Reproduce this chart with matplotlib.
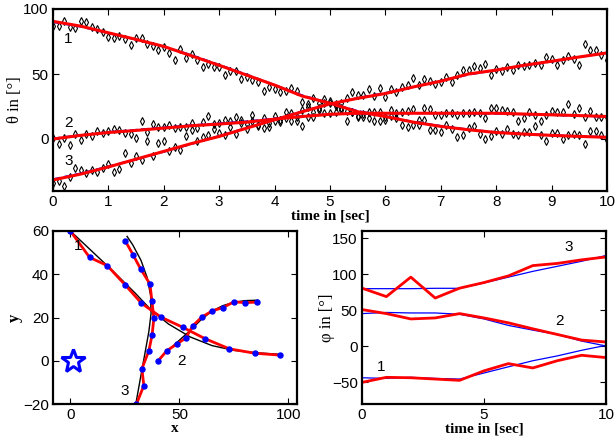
import numpy as np
import matplotlib
matplotlib.use('Agg')
import matplotlib.pyplot as plt

plt.rcParams['font.family'] = ['Liberation Sans', 'DejaVu Sans']
plt.rcParams['font.size'] = 11
plt.rcParams['xtick.direction'] = 'in'
plt.rcParams['ytick.direction'] = 'in'
plt.rcParams['xtick.top'] = True
plt.rcParams['ytick.right'] = True
plt.rcParams['axes.linewidth'] = 1.6

SERIF = ['Liberation Serif', 'DejaVu Serif']

# ---- top panel: bearing angles theta over time ----
t_meas = np.round(np.arange(0, 10.01, 0.1), 1)
theta1_meas = [87, 87.3, 91.1, 86.5, 85.2, 90.6, 90.3, 86.5, 84.7, 82.2,
               78.4, 77.9, 78.9, 76.6, 72, 77.9, 77.9, 73.3, 71.5, 68.7,
               70.7, 66.2, 61.1, 69, 62.6, 65.6, 60.6, 55.5, 58, 55.5,
               55.5, 49.1, 52.4, 52.4, 46, 47.8, 45.3, 43.5, 36.9, 40.2,
               38.4, 36.4, 36.9, 39.4, 36.9, 28.8, 26.7, 31.8, 27.5, 30.8,
               29.3, 25.7, 23.7, 13.5, 20.6, 17.3, 17.3, 16.5, 13.5, 14,
               14.8, 18, 16, 10.4, 8.9, 10.4, 10.4, 14.8, 7.1, 7.1,
               5.3, 10.4, 7.9, 1.3, 3.3, 8.4, 9.7, 3.8, 0.3, 2.5,
               6.4, 3.8, 7.9, 3.8, 2.8, 5.3, 5.3, 9.7, 2.8, -1.3,
               4.6, 4.6, 0.3, 2.8, 3.8, 2.8, -3.8, 5.9, 5.9, 3.3, -0.5]
theta2_meas = [1, -3.8, 0.8, -4.8, 3.8, -0.5, 3.8, 2, 5.9, 4.6,
               6.4, 7.9, 7.1, 4.6, 3.8, 0.8, 13.5, 5.1, 11.7, 8.9,
               9.4, 10.4, 8.4, 8.9, 9.4, 12, 8.4, 13, 18, 11.5,
               12.2, 14.8, 14, 17.3, 14.8, 11.5, 18.6, 11, 8.4, 12.2,
               13.5, 14.8, 20.6, 14, 17.3, 9.7, 17.3, 17.3, 22.4, 19.8,
               19.8, 21.1, 22.4, 21.6, 20.6, 18, 19.1, 20.6, 20.6, 20.6,
               17.3, 22.4, 19.8, 20.6, 21.6, 23.2, 14.8, 23.7, 23.2, 18.6,
               18.6, 19.8, 19.8, 18.6, 19.8, 19.8, 21.1, 19.8, 16.5, 24.2,
               23.7, 22.4, 21.6, 20.6, 14, 16, 20.6, 18.6, 14, 18.6,
               21.6, 21.1, 21.1, 26.7, 19.1, 23.7, 17.3, 21.6, 17.3, 17.3, 16.8]
theta3_meas = [-33.6, -32.3, -36.1, -29.3, -22.1, -23.9, -26, -23.9, -25.4, -22.1,
               -19.6, -25.2, -23.4, -10.7, -18.3, -13.2, -15.8, -1.3, -13.2, -3,
               -1.8, -9.4, -6.4, -8.1, 2.5, 7.1, -1.3, 1.3, 3.3, 7.9,
               5, 3, 9, 4, 12, 8, 14, 10, 16, 9,
               18, 13, 16, 20, 14, 22, 25, 21, 24, 28,
               27.5, 26.7, 27.5, 31.8, 35.9, 33.8, 33.8, 38.4, 33.3, 38.9,
               32.1, 38.4, 35.9, 40.2, 41.5, 47.1, 41.5, 46.1, 44.5, 42,
               43.5, 47.8, 43.5, 49.1, 52.9, 53.4, 56.2, 54.7, 58, 49.1,
               54.2, 52.2, 55.5, 52.9, 57.3, 56.2, 57.3, 58.8, 56.7, 63.1,
               61.3, 57.3, 60.6, 63.9, 61.3, 57.3, 73.3, 68.7, 68.2, 64.9, 61.1]

t_curve = np.arange(0, 10.01, 0.5)
theta1_true = [90, 86.5, 81.5, 76.5, 71, 64.5, 57, 49.5, 41.5, 33.5, 27.5,
               21.5, 17.5, 13.2, 10, 7.3, 5.2, 3.9, 2.9, 2.1, 1.5]
theta1_est = [90.5, 86.8, 81.7, 76.6, 71.2, 64, 56.7, 49.1, 41.5, 33, 27.5,
              21, 17.3, 13, 9.7, 7.1, 5, 3.8, 2.8, 2, 1.3]
theta2_true = [0.3, 3, 5.3, 7, 8.8, 10.5, 12, 13.5, 15.6, 17.5, 19,
               19.7, 19.9, 19.9, 19.8, 19.7, 19.5, 19.1, 18.5, 17.9, 17.2]
theta2_est = [0, 2.8, 5, 6.6, 8.4, 10.2, 11.5, 13, 15.3, 17.3, 19,
              19.8, 19.8, 19.8, 19.8, 19.8, 19.8, 19.2, 18.6, 18, 17.3]
theta3_true = [-31, -26.5, -21.2, -15.6, -9.8, -3.8, 2.3, 8.6, 15, 21.3, 26.8,
               31.5, 35.4, 40, 44.7, 49.6, 53, 56.5, 59.6, 63, 66.4]
theta3_est = [-31.5, -27, -21.5, -15.5, -9.5, -3.5, 2, 8.4, 14.8, 21, 27,
              31.3, 35, 40, 44.5, 50, 53, 56.7, 59.8, 63.1, 66.2]

# ---- bottom left: x-y tracks ----
trk1_true_x = [0, 10, 20, 30, 37, 45, 55, 65, 75, 85, 96]
trk1_true_y = [60, 50.5, 41, 31, 23.5, 17, 11, 7, 4.8, 3.7, 3]
trk1_est_x = [0, 8.8, 16.9, 25.2, 32.6, 41.5, 51.5, 61.8, 73, 84.5, 96]
trk1_est_y = [60, 47.8, 44, 35, 26.6, 20.2, 15.5, 10.2, 5.5, 3.5, 2.6]
trk2_true_x = [40, 45, 50, 55, 60, 65, 70, 75, 80, 86]
trk2_true_y = [0, 5, 9.5, 14, 19, 23, 25.5, 27, 27.8, 28]
trk2_est_x = [40.3, 44.2, 48.8, 52.9, 56.2, 60.3, 65, 70, 75, 80.3, 85.8]
trk2_est_y = [0, 4.6, 7.7, 10.5, 16.2, 20.2, 23, 24.6, 27.2, 26.9, 27.1]
trk3_true_x = [30, 31.5, 33, 34.5, 36, 37, 36.8, 35.2, 32.4, 28.6, 26]
trk3_true_y = [-20, -11.6, -3.2, 5.1, 13.5, 21.8, 30.3, 38.5, 46.4, 53.6, 57.5]
trk3_est_x = [30.3, 33.7, 32.8, 36, 37.5, 38.3, 37.4, 36.5, 32.3, 28.8, 25.2]
trk3_est_y = [-20, -11.5, -3.7, 4.6, 12, 19.7, 27.7, 35.5, 42.3, 48.9, 55.4]
sensor_x, sensor_y = 1, 0

# ---- bottom right: heading phi over time ----
t_phi = np.arange(0, 11)
phi1_true = [-43.6, -44.5, -43, -44.5, -45.4, -37, -28.4, -20, -13.3, -5.5, 1.4]
phi1_est = [-50, -43, -43.6, -45.4, -47.2, -34, -24, -30, -20, -12.4, -15.6]
phi2_true = [45.4, 47, 46.3, 46.3, 44.5, 38, 29, 22.5, 16.5, 7.3, 0.5]
phi2_est = [51, 45.4, 38, 39.4, 45.4, 39.4, 32.6, 24.3, 16.5, 8.7, 6]
phi3_true = [80, 80, 80, 80.5, 80.5, 88, 96, 104, 111, 118, 126]
phi3_est = [80.7, 69, 96, 67, 80.7, 88.5, 97.7, 112, 115, 120, 124]

fig = plt.figure(figsize=(6.16, 4.42), dpi=100)

# top
ax1 = fig.add_axes([53/616, 1-191/442, 554/616, 182/442])
for m in (theta1_meas, theta2_meas, theta3_meas):
    ax1.plot(t_meas, m, linestyle='none', marker='d', ms=3.6, mfc='none',
             mec='black', mew=0.8)
for tr, es in ((theta1_true, theta1_est), (theta2_true, theta2_est),
               (theta3_true, theta3_est)):
    ax1.plot(t_curve, tr, color='blue', ls='--', lw=1.5)
    ax1.plot(t_curve, es, color='red', lw=2.2)
ax1.text(0.2, 74, '1')
ax1.text(0.2, 9, '2')
ax1.text(0.2, -20, '3')
ax1.set_xlim(0, 10)
ax1.set_ylim(-40, 100)
ax1.set_xticks(range(0, 11))
ax1.set_yticks([0, 50, 100])
ax1.set_xlabel('time in [sec]', family=SERIF, fontweight='bold', labelpad=0)
ax1.set_ylabel('θ in [°]', family=SERIF, fontsize=12, labelpad=0)

# bottom left
ax2 = fig.add_axes([53/616, 1-404/442, 244/616, 173/442])
ax2.plot(trk1_true_x, trk1_true_y, color='black', lw=1)
ax2.plot(trk2_true_x, trk2_true_y, color='black', lw=1)
ax2.plot(trk3_true_x, trk3_true_y, color='black', lw=1)
for ex, ey in ((trk1_est_x, trk1_est_y), (trk2_est_x, trk2_est_y),
               (trk3_est_x, trk3_est_y)):
    ax2.plot(ex, ey, color='red', lw=2)
    ax2.plot(ex, ey, ls='none', marker='o', ms=3.6, color='blue')
ax2.plot(sensor_x, sensor_y, marker='*', ms=18, mfc='none', mec='blue', mew=2.2)
ax2.text(1.5, 51, '1')
ax2.text(49, -2, '2')
ax2.text(23, -16, '3')
ax2.set_xlim(-8, 104)
ax2.set_ylim(-20, 60)
ax2.set_xticks([0, 50, 100])
ax2.set_yticks([-20, 0, 20, 40, 60])
ax2.set_xlabel('x', family=SERIF, fontweight='bold', labelpad=0)
ax2.set_ylabel('y', family=SERIF, fontweight='bold', fontsize=12, labelpad=0)

# bottom right
ax3 = fig.add_axes([362/616, 1-404/442, 244/616, 173/442])
for tr, es in ((phi1_true, phi1_est), (phi2_true, phi2_est),
               (phi3_true, phi3_est)):
    ax3.plot(t_phi, tr, color='blue', lw=0.9)
    ax3.plot(t_phi, es, color='red', lw=2)
ax3.text(0.6, -34, '1')
ax3.text(7.9, 30, '2')
ax3.text(8.3, 132, '3')
ax3.set_xlim(0, 10)
ax3.set_ylim(-80, 160)
ax3.set_xticks([0, 5, 10])
ax3.set_yticks([-50, 0, 50, 100, 150])
ax3.set_xlabel('time in [sec]', family=SERIF, fontweight='bold', labelpad=0)
ax3.set_ylabel('φ in [°]', family=SERIF, fontsize=12, labelpad=-2)

for ax in (ax1, ax2, ax3):
    ax.tick_params(length=4, width=0.8, pad=3)
    for lab in ax.get_xticklabels() + ax.get_yticklabels():
        lab.set_fontsize(11)

fig.savefig('out.png', dpi=100)
